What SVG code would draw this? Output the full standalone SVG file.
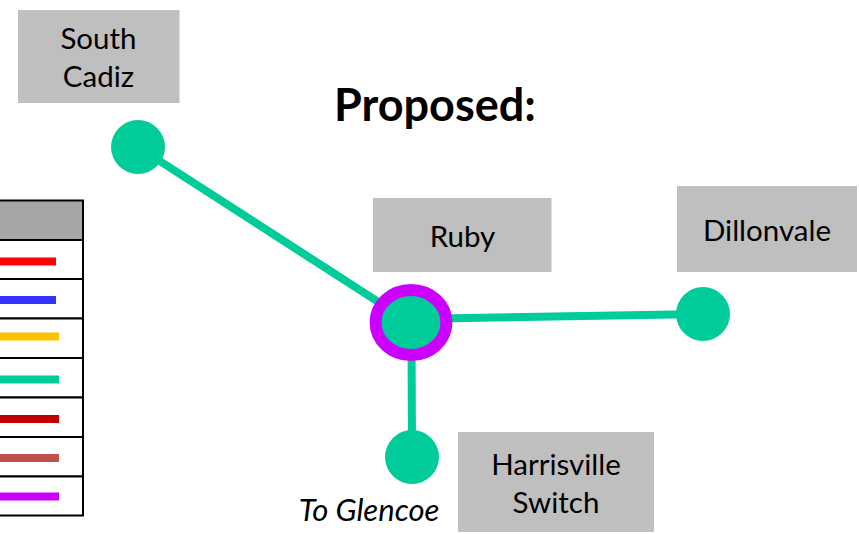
<svg xmlns="http://www.w3.org/2000/svg" width="859" height="534" viewBox="0 0 859 534">
<style>
.box{fill:#bfbfbf}
.t{font-family:"Lato","Open Sans",sans-serif;font-size:29.500px;fill:#000;text-anchor:middle}
.st{fill:#00cc99}
.c{stroke:#00cc99;stroke-width:8;fill:none}
.row{fill:#fff;stroke:#000;stroke-width:2}
</style>
<rect width="859" height="534" fill="#fff"/>
<g id="legend">
<rect x="-5" y="200.500" width="88" height="39.500" fill="#a6a6a6" stroke="#000" stroke-width="2"/>
<rect class="row" x="-5" y="240" width="88" height="39"/>
<rect class="row" x="-5" y="279" width="88" height="39.500"/>
<rect class="row" x="-5" y="318.500" width="88" height="39.500"/>
<rect class="row" x="-5" y="358" width="88" height="39.500"/>
<rect class="row" x="-5" y="397.500" width="88" height="39.500"/>
<rect class="row" x="-5" y="437" width="88" height="39.500"/>
<rect class="row" x="-5" y="476.500" width="88" height="39"/>
<g stroke-width="8">
<line x1="0" y1="261.500" x2="56" y2="261.500" stroke="#ff0000"/>
<line x1="0" y1="300" x2="56" y2="300" stroke="#3333ff"/>
<line x1="0" y1="336.500" x2="59" y2="336.500" stroke="#ffc000"/>
<line x1="0" y1="379.500" x2="59" y2="379.500" stroke="#00cc99"/>
<line x1="0" y1="419" x2="59" y2="419" stroke="#c00000"/>
<line x1="0" y1="458" x2="59" y2="458" stroke="#c0504d"/>
<line x1="0" y1="496.500" x2="59" y2="496.500" stroke="#cc00ff"/>
</g>
</g>
<g id="connectors">
<line class="c" x1="138" y1="147" x2="411" y2="323"/>
<line class="c" x1="411" y1="319" x2="703" y2="314"/>
<line class="c" x1="411.500" y1="323" x2="412" y2="457"/>
</g>
<g id="south-cadiz"><rect class="box" x="18" y="10" width="161.500" height="93"/><text class="t" x="98.500" y="49">South</text><text class="t" x="98.500" y="87">Cadiz</text><circle class="st" cx="138" cy="147" r="27"/></g>
<g id="ruby"><rect class="box" x="373" y="198" width="178.500" height="74"/><text class="t" x="462.500" y="247">Ruby</text><ellipse cx="411" cy="322.500" rx="35.400" ry="32.500" fill="#00cc99" stroke="#cc00ff" stroke-width="12"/></g>
<g id="dillonvale"><rect class="box" x="677" y="186" width="180" height="86"/><text class="t" x="767" y="241">Dillonvale</text><circle class="st" cx="703" cy="314" r="27"/></g>
<g id="harrisville"><rect class="box" x="458" y="432" width="196" height="100"/><text class="t" x="556" y="475">Harrisville</text><text class="t" x="556" y="513">Switch</text><circle class="st" cx="412" cy="457" r="27"/></g>
<text x="369" y="521" style="font-family:'Lato','Open Sans',sans-serif;font-size:31px;font-style:italic;text-anchor:middle">To Glencoe</text>
<text x="435" y="121" style="font-family:'Lato','Open Sans',sans-serif;font-size:45px;font-weight:bold;text-anchor:middle">Proposed:</text>
</svg>
